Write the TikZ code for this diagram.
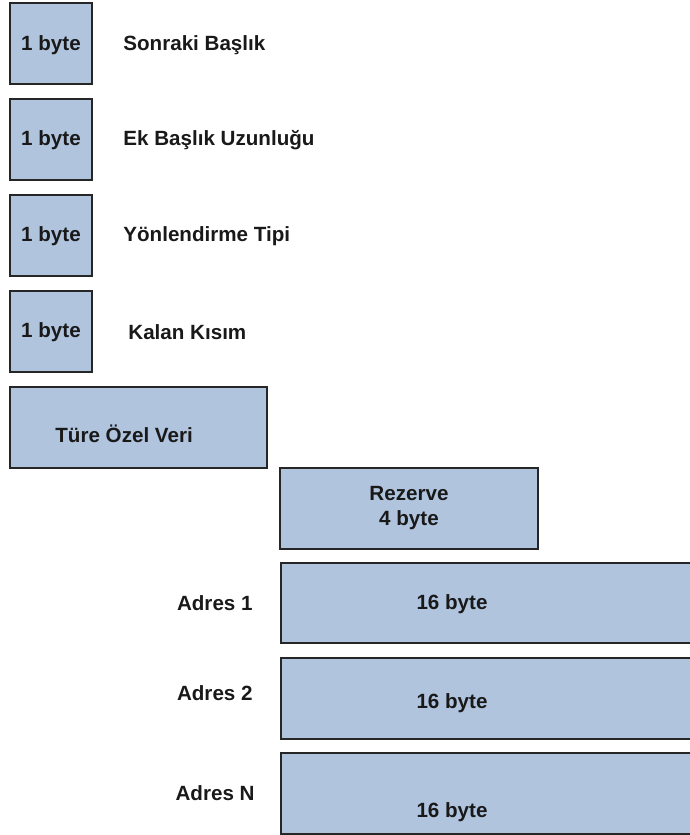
\documentclass[tikz,border=0pt]{standalone}
\usepackage{fontspec}
\setmainfont{Liberation Sans}
\begin{document}
\begin{tikzpicture}[x=0.5pt,y=-0.5pt,
  field/.style={draw=black!85,line width=1pt,fill=fieldblue},
  lbl/.style={font=\fontsize{10.3pt}{12.4pt}\selectfont\bfseries,inner sep=0pt,text=black!90},
  lbll/.style={lbl,anchor=west},
  lblr/.style={lbl,anchor=east}]
\definecolor{fieldblue}{HTML}{B0C4DE}
\useasboundingbox (0,0) rectangle (690,835);
\clip (0,0) rectangle (690,835);

% one-byte header fields
\path[field] (10,3) rectangle (92,84);
\path[field] (10,99) rectangle (92,180);
\path[field] (10,195) rectangle (92,276);
\path[field] (10,291) rectangle (92,372);
\node[lbl] (f1) at (51,45) {1 byte};
\node[lbl] (f2) at (51,140) {1 byte};
\node[lbl] (f3) at (51,236) {1 byte};
\node[lbl] (f4) at (51,332) {1 byte};
\node[lbll] (n1) at (123,45) {Sonraki Başlık};
\node[lbll] (n2) at (123,140) {Ek Başlık Uzunluğu};
\node[lbll] (n3) at (123,236) {Yönlendirme Tipi};
\node[lbll] (n4) at (128,332) {Kalan Kısım};

% type specific data
\path[field] (10,387) rectangle (267,468);
\node[lbll] (tv) at (55,434) {Türe Özel Veri};

% reserved word
\path[field] (280,468) rectangle (538,549);
\node[lbl,align=center] (rz) at (409,508) {Rezerve\\4 byte};

% addresses
\path[field] (281,563) rectangle (700,643);
\path[field] (281,658) rectangle (700,739);
\path[field] (281,753) rectangle (700,834);
\node[lblr] (a1) at (253,603) {Adres 1};
\node[lblr] (a2) at (253,693) {Adres 2};
\node[lblr] (an) at (255,793) {Adres N};
\node[lbl] (s1) at (452,604) {16 byte};
\node[lbl] (s2) at (452,703) {16 byte};
\node[lbl] (sn) at (452,812) {16 byte};
\end{tikzpicture}
\end{document}
